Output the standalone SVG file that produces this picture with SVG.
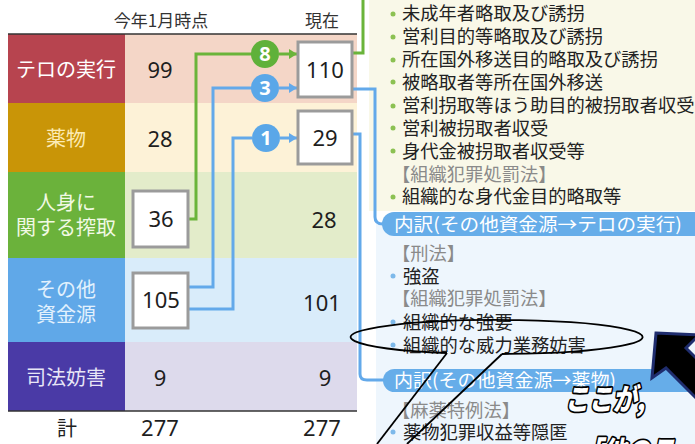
<svg xmlns="http://www.w3.org/2000/svg" width="695" height="444" viewBox="0 0 695 444">
<style>
.lbl{font-family:"Noto Sans CJK JP","Noto Sans",sans-serif;font-size:20px;text-anchor:middle}
.num{font-family:"Noto Sans","DejaVu Sans",sans-serif;font-size:22px;text-anchor:middle;fill:#1e1e1e}
.hdr{font-family:"Noto Sans CJK JP",sans-serif;font-size:17px;text-anchor:middle;fill:#333}
.li{font-family:"Noto Sans CJK JP",sans-serif;font-size:18.3px;fill:#222}
.law{font-family:"Noto Sans CJK JP",sans-serif;font-size:18.3px;fill:#8a8a8a}
.pill{font-family:"Noto Sans CJK JP",sans-serif;font-size:18px;fill:#fff}
.box{fill:#fff;stroke:#9b9b9b;stroke-width:3}
.g{fill:none;stroke:#6ab43a;stroke-width:3}
.b{fill:none;stroke:#63a9ea;stroke-width:3}
.cn{font-family:"Noto Sans","DejaVu Sans",sans-serif;font-size:20px;font-weight:bold;text-anchor:middle;fill:#fff}
.big{font-family:"Noto Sans CJK JP",sans-serif;font-size:30px;font-weight:900;font-style:italic;fill:#fff;stroke:#000;stroke-width:3.5;paint-order:stroke;stroke-linejoin:round}
</style>
<defs>
<marker id="ag" viewBox="0 0 8 10" refX="8" refY="5" markerWidth="8" markerHeight="10" markerUnits="userSpaceOnUse" orient="auto"><path d="M0,0 L8,5 L0,10 Z" fill="#6ab43a"/></marker>
<marker id="ab" viewBox="0 0 8 10" refX="8" refY="5" markerWidth="8" markerHeight="10" markerUnits="userSpaceOnUse" orient="auto"><path d="M0,0 L8,5 L0,10 Z" fill="#63a9ea"/></marker>
</defs>
<rect width="695" height="444" fill="#fff"/>

<!-- right panels backgrounds -->
<rect x="369" y="0" width="326" height="211" fill="#f9f8e8"/>
<rect x="376" y="224" width="319" height="220" fill="#eef6fd"/>

<!-- table -->
<g id="header">
<text class="hdr" x="161" y="27">今年1月時点</text>
<text class="hdr" x="322" y="27">現在</text>
</g>
<g id="row-terror">
<rect x="8" y="34" width="117" height="69" fill="#b7444f"/>
<rect x="125" y="34" width="232" height="69" fill="#f4d6c7"/>
<text class="lbl" x="66" y="77" fill="#fff">テロの実行</text>
<text class="num" x="160" y="78">99</text>
</g>
<g id="row-drug">
<rect x="8" y="103" width="117" height="69" fill="#c99507"/>
<rect x="125" y="103" width="232" height="69" fill="#fdf2d7"/>
<text class="lbl" x="66" y="146" fill="#fcebb4">薬物</text>
<text class="num" x="160" y="147">28</text>
</g>
<g id="row-human">
<rect x="8" y="172" width="117" height="86" fill="#6bb23b"/>
<rect x="125" y="172" width="232" height="86" fill="#e3ecca"/>
<text class="lbl" x="66" y="210" fill="#f1f9e4">人身に</text>
<text class="lbl" x="66" y="235" fill="#f1f9e4">関する搾取</text>
<text class="num" x="324" y="228">28</text>
</g>
<g id="row-other">
<rect x="8" y="258" width="117" height="84" fill="#60a8e8"/>
<rect x="125" y="258" width="232" height="84" fill="#d9ecfa"/>
<text class="lbl" x="66" y="297" fill="#e2f1fd">その他</text>
<text class="lbl" x="66" y="322" fill="#e2f1fd">資金源</text>
<text class="num" x="322" y="311">101</text>
</g>
<g id="row-justice">
<rect x="8" y="342" width="117" height="69" fill="#4a3aa6"/>
<rect x="125" y="342" width="232" height="69" fill="#dddaec"/>
<text class="lbl" x="66" y="385" fill="#e8e6f6">司法妨害</text>
<text class="num" x="160" y="386">9</text>
<text class="num" x="325" y="386">9</text>
</g>
<g id="total">
<text class="lbl" x="67" y="436" fill="#222">計</text>
<text class="num" x="160" y="436">277</text>
<text class="num" x="322" y="436">277</text>
</g>
<line x1="8" y1="34" x2="357" y2="34" stroke="#333" stroke-width="1.6"/>
<line x1="8" y1="411" x2="357" y2="411" stroke="#333" stroke-width="1.6"/>

<!-- connectors -->
<g id="connectors">
<path class="g" d="M188,219 H196 V54 H252"/>
<path class="g" d="M279,54 H297" marker-end="url(#ag)"/>
<path class="b" d="M188,287 H213 V88 H252"/>
<path class="b" d="M279,88 H297" marker-end="url(#ab)"/>
<path class="b" d="M188,309 H233 V138 H252"/>
<path class="b" d="M280,138 H297" marker-end="url(#ab)"/>
<path class="g" d="M352,53 H363 V0"/>
<path class="b" d="M352,89 H375 V217 Q375,224 383,224"/>
<path class="b" d="M352,134 H360 V374 Q360,380 367,380 H385"/>
</g>

<g id="box-36"><rect class="box" x="133" y="191" width="55" height="56"/><text class="num" x="161" y="227">36</text></g>
<g id="box-105"><rect class="box" x="133" y="273" width="55" height="55"/><text class="num" x="161" y="308">105</text></g>
<g id="box-110"><rect class="box" x="298" y="42" width="54" height="55"/><text class="num" x="325" y="78">110</text></g>
<g id="box-29"><rect class="box" x="298" y="111" width="54" height="53"/><text class="num" x="325" y="146">29</text></g>

<g id="c8"><circle cx="265" cy="54" r="14" fill="#5fb13a"/><text class="cn" x="265" y="61">8</text></g>
<g id="c3"><circle cx="265" cy="88" r="14" fill="#5aa7e8"/><text class="cn" x="265" y="95">3</text></g>
<g id="c1"><circle cx="266" cy="138" r="14" fill="#5aa7e8"/><text class="cn" x="266" y="145">1</text></g>

<!-- top list -->
<g id="list-human" fill="#8cc152">
<circle cx="393" cy="14" r="2.5"/><text class="li" x="402" y="20">未成年者略取及び誘拐</text>
<circle cx="393" cy="37" r="2.5"/><text class="li" x="402" y="43">営利目的等略取及び誘拐</text>
<circle cx="393" cy="60" r="2.5"/><text class="li" x="402" y="66">所在国外移送目的略取及び誘拐</text>
<circle cx="393" cy="82" r="2.5"/><text class="li" x="402" y="89">被略取者等所在国外移送</text>
<circle cx="393" cy="106" r="2.5"/><text class="li" x="402" y="112">営利拐取等ほう助目的被拐取者収受</text>
<circle cx="393" cy="128" r="2.5"/><text class="li" x="402" y="135">営利被拐取者収受</text>
<circle cx="393" cy="151" r="2.5"/><text class="li" x="402" y="158">身代金被拐取者収受等</text>
<text class="law" x="392" y="181">【組織犯罪処罰法】</text>
<circle cx="393" cy="197" r="2.5"/><text class="li" x="402" y="203">組織的な身代金目的略取等</text>
</g>

<g id="pill-terror">
<rect x="382" y="212" width="330" height="24" rx="12" fill="#66ade9"/>
<text class="pill" x="394" y="231" textLength="288" lengthAdjust="spacingAndGlyphs">内訳(その他資金源→テロの実行)</text>
</g>
<g id="list-terror" fill="#7db9ea">
<text class="law" x="392" y="260">【刑法】</text>
<circle cx="393" cy="276" r="2.5"/><text class="li" x="403" y="283">強盗</text>
<text class="law" x="392" y="305">【組織犯罪処罰法】</text>
<circle cx="393" cy="322" r="2.5"/><text class="li" x="403" y="329">組織的な強要</text>
<circle cx="393" cy="345" r="2.5"/><text class="li" x="403" y="352">組織的な威力業務妨害</text>
</g>
<g id="pill-drug">
<rect x="383" y="369" width="330" height="23" rx="11.5" fill="#66ade9"/>
<text class="pill" x="394" y="387" textLength="222" lengthAdjust="spacingAndGlyphs">内訳(その他資金源→薬物)</text>
</g>
<g id="list-drug" fill="#7db9ea">
<text class="law" x="392" y="417">【麻薬特例法】</text>
<circle cx="393" cy="432" r="2.5"/><text class="li" x="403" y="439">薬物犯罪収益等隠匿</text>
</g>

<!-- annotation -->
<g id="bubble" fill="none" stroke="#000" stroke-width="1.8">
<path d="M447,353 A146,17 0 1 1 502,354"/>
<path d="M447,353 L377,444"/>
<path d="M502,354 L407,444"/>
</g>
<g id="arrow">
<polygon points="656,333 699,335 686,348 790,452 770,472 666,368 652,378" fill="#000" stroke="#1f2d6e" stroke-width="3" stroke-linejoin="miter"/>
</g>
<g id="callout">
<text class="big" x="565" y="410" textLength="80" lengthAdjust="spacingAndGlyphs">ここが,</text>
<text class="big" x="578" y="463" textLength="96" lengthAdjust="spacingAndGlyphs">「他のテ</text>
</g>
</svg>
